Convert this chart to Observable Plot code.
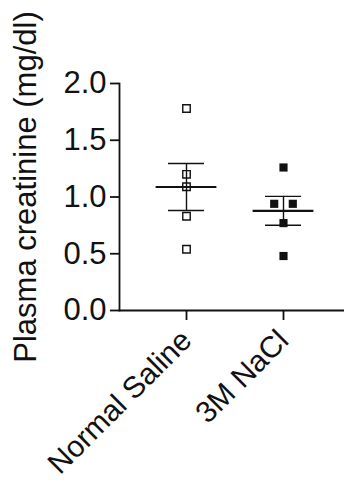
<!DOCTYPE html>
<html><head><meta charset="utf-8">
<script src="https://cdn.jsdelivr.net/npm/d3@7"></script>
<script src="https://cdn.jsdelivr.net/npm/@observablehq/plot@0.6"></script>
<style>body{margin:0;background:#fff} svg{display:block}</style>
</head><body><div id="chart"></div>
<script>
const categories = ["Normal Saline", "3M NaCl"];
const salineValues = [1.78, 1.20, 1.09, 0.83, 0.54];
const naclValues = [1.26, 0.94, 0.94, 0.77, 0.48];
const yTicks = [0, 0.5, 1.0, 1.5, 2.0];
const yLabel = "Plasma creatinine (mg/dl)";

const groups = [salineValues, naclValues];
const points = [];
groups.forEach((vals, g) => {
  const counts = d3.rollup(vals, v => v.length, v => v);
  const seen = new Map();
  vals.forEach(v => {
    const m = counts.get(v), k = seen.get(v) || 0;
    seen.set(v, k + 1);
    points.push({group: categories[g], value: v, slot: k - (m - 1) / 2, filled: g === 1});
  });
});
const stats = groups.map((vals, g) => {
  const mean = d3.mean(vals);
  const sem = d3.deviation(vals) / Math.sqrt(vals.length);
  return {group: categories[g], mean, lo: mean - sem, hi: mean + sem};
});
const slots = [...new Set(points.map(d => d.slot))];
const SLOT_PX = 18.6;

const dotMarks = [];
for (const s of slots) {
  dotMarks.push(Plot.dot(points.filter(d => d.slot === s && !d.filled), {
    x: "group", y: "value", symbol: "square", r: 4.2, fill: "white", stroke: "#111", strokeWidth: 1.4, dx: s * SLOT_PX
  }));
  dotMarks.push(Plot.dot(points.filter(d => d.slot === s && d.filled), {
    x: "group", y: "value", symbol: "square", r: 4.6, fill: "#111", dx: s * SLOT_PX
  }));
}

const chart = Plot.plot({
  width: 344, height: 484,
  marginLeft: 119, marginRight: 0, marginTop: 83, marginBottom: 174,
  style: {fontFamily: "'Liberation Sans', Arial, Helvetica, sans-serif", color: "#111", background: "white"},
  x: {type: "band", domain: categories, paddingInner: 0.2, paddingOuter: 0.231, insetLeft: 4.7, label: null},
  y: {domain: [0, 2], label: null},
  marks: [
    Plot.frame({anchor: "left", strokeWidth: 1.8}),
    Plot.frame({anchor: "bottom", strokeWidth: 1.8}),
    Plot.axisY({ticks: yTicks, tickFormat: d => d.toFixed(1), tickSize: 9, tickPadding: 4, fontSize: 31, strokeWidth: 1.8, label: null}),
    Plot.axisX({tickSize: 10, tickPadding: 15, tickRotate: -45, fontSize: 30, strokeWidth: 1.8, label: null}),
    Plot.text([yLabel], {frameAnchor: "left", rotate: -90, textAnchor: "middle", lineAnchor: "bottom", dx: -84, dy: -10, fontSize: 31}),
    ...dotMarks,
    Plot.ruleX(stats, {x: "group", y1: "lo", y2: "hi", strokeWidth: 1.4}),
    Plot.tickY(stats, {x: "group", y: "mean", strokeWidth: 2.2, insetLeft: 8.6, insetRight: 8.6}),
    Plot.tickY(stats, {x: "group", y: "lo", strokeWidth: 1.4, insetLeft: 21, insetRight: 21}),
    Plot.tickY(stats, {x: "group", y: "hi", strokeWidth: 1.4, insetLeft: 21, insetRight: 21})
  ]
});
document.getElementById("chart").append(chart);
</script>
</body></html>
